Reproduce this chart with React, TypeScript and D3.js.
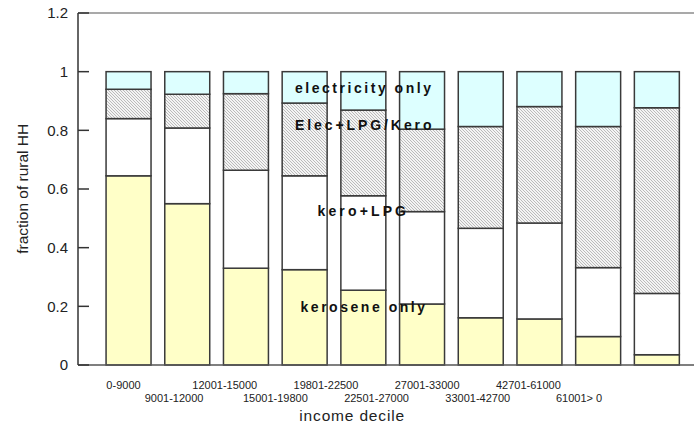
import React from "react";
import * as d3 from "d3";

const categories = ["0-9000", "9001-12000", "12001-15000", "15001-19800", "19801-22500", "22501-27000", "27001-33000", "33001-42700", "42701-61000", "61001> 0"];
const keroseneOnly = [0.645, 0.55, 0.33, 0.325, 0.255, 0.208, 0.161, 0.157, 0.097, 0.035];
const keroLPG = [0.195, 0.258, 0.334, 0.32, 0.322, 0.315, 0.305, 0.327, 0.235, 0.209];
const elecLPGKero = [0.1, 0.115, 0.261, 0.248, 0.292, 0.281, 0.347, 0.397, 0.481, 0.633];
const electricityOnly = [0.06, 0.077, 0.075, 0.107, 0.131, 0.196, 0.187, 0.119, 0.187, 0.123];
const seriesNames = ["kerosene only", "kero+LPG", "Elec+LPG/Kero", "electricity only"];
const yTicks = [0, 0.2, 0.4, 0.6, 0.8, 1, 1.2];

const W = 694, H = 428;

export default function App() {
  const y = d3.scaleLinear().domain([0, 1.2]).range([365, 13]);
  const x = d3.scaleBand<string>().domain(categories).range([99.2, 686.2]).paddingInner(0.234).paddingOuter(0.117);
  const xl = d3.scalePoint<string>().domain(categories).range([123.5, 579]);
  const rows = categories.map((c, i) => ({
    cat: c,
    "kerosene only": keroseneOnly[i],
    "kero+LPG": keroLPG[i],
    "Elec+LPG/Kero": elecLPGKero[i],
    "electricity only": electricityOnly[i],
  }));
  const stack = d3.stack<any>().keys(seriesNames)(rows);
  const fills = ["#FFFFC8", "#FFFFFF", "url(#hatch)", "#DDFFFF"];
  const labels = [
    { t: "electricity only", x: 295, y: 92.5, w: 136 },
    { t: "Elec+LPG/Kero", x: 295, y: 130, w: 136.5 },
    { t: "kero+LPG", x: 317.5, y: 216, w: 88.5 },
    { t: "kerosene only", x: 300.5, y: 312, w: 124.5 },
  ];
  return (
    <svg width={W} height={H} style={{ position: "absolute", left: 0, top: 0, background: "#fff" }} fontFamily="Arial, 'Liberation Sans', sans-serif">
      <defs>
        <pattern id="hatch" patternUnits="userSpaceOnUse" width={3} height={3}>
          <rect width={3} height={3} fill="#f4f4f4" />
          <path d="M-1,-1 L4,4 M-1,2 L1,4 M2,-1 L4,1" stroke="#b4b4b4" strokeWidth={0.9} />
        </pattern>
      </defs>
      <line x1={78} x2={694} y1={y(1.2)} y2={y(1.2)} stroke="#555" strokeWidth={1.2} />
      {stack.map((s, si) =>
        s.map((d, i) => (
          <rect key={si + "-" + i} x={x(categories[i])} y={y(d[1])} width={x.bandwidth()} height={y(d[0]) - y(d[1])}
            fill={fills[si]} stroke="#3a3a3a" strokeWidth={1.5} />
        ))
      )}
      <line x1={78} x2={694} y1={y(0)} y2={y(0)} stroke="#555" strokeWidth={1.5} />
      <line x1={78} x2={78} y1={y(0)} y2={y(1.2)} stroke="#333" strokeWidth={1.5} />
      {yTicks.map((t) => (
        <g key={t}>
          <line x1={78} x2={89} y1={y(t)} y2={y(t)} stroke="#333" strokeWidth={1.5} />
          <text x={68} y={y(t)} dy="0.36em" textAnchor="end" fontSize={15} fill="#222">{String(t)}</text>
        </g>
      ))}
      {categories.map((c, i) => (
        <text key={c} x={xl(c)} y={i % 2 === 0 ? 388.5 : 401.5} textAnchor="middle" fontSize={11} fill="#222">{c}</text>
      ))}
      <text x={351.7} y={420.5} textAnchor="middle" fontSize={15.5} fill="#222" textLength={104.7} lengthAdjust="spacing">income decile</text>
      <text transform={`translate(28,188.8) rotate(-90)`} textAnchor="middle" fontSize={15.5} fill="#222">fraction of rural HH</text>
      {labels.map((l) => (
        <text key={l.t} x={l.x} y={l.y} fontSize={14} fontWeight="bold" fill="#111" textLength={l.w} lengthAdjust="spacing">{l.t}</text>
      ))}
    </svg>
  );
}
